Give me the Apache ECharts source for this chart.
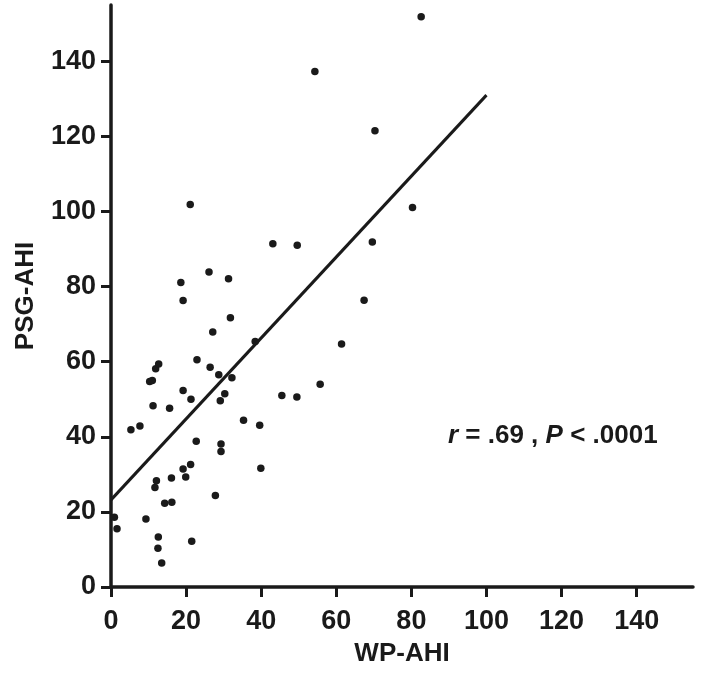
<!DOCTYPE html>
<html>
<head>
<meta charset="utf-8">
<script src="https://cdn.jsdelivr.net/npm/echarts@6/dist/echarts.min.js"></script>
<style>html,body{margin:0;padding:0;background:#fff}#c{width:716px;height:677px}</style>
</head>
<body>
<div id="c"></div>
<script>
var wpAhi = [0.9,1.6,5.3,7.7,9.3,10.3,11.0,11.2,11.7,11.9,12.1,12.7,12.6,12.5,13.5,14.3,15.6,16.1,16.2,19.2,19.2,19.9,21.3,21.2,21.5,22.7,22.9,26.4,27.1,27.8,28.7,29.1,29.3,29.3,30.3,31.8,32.2,35.3,38.4,39.6,39.9,45.5,49.5,55.7,61.4,54.3,21.1,43.1,49.6,18.6,19.2,26.1,31.3,82.6,70.3,80.3,69.6,67.4];
var psgAhi = [18.6,15.5,41.9,42.9,18.1,54.7,55.0,48.3,26.5,58.1,28.3,59.4,13.3,10.3,6.4,22.3,47.6,29.0,22.6,52.3,31.4,29.3,50.0,32.6,12.2,38.8,60.5,58.5,67.9,24.4,56.5,49.6,38.1,36.1,51.5,71.7,55.7,44.4,65.4,43.1,31.6,51.0,50.6,54.0,64.7,137.3,101.9,91.4,91.0,81.1,76.3,83.9,82.1,151.9,121.5,101.1,91.9,76.4];
var fitX = [0, 100];
var fitY = [23.2, 131.0];
var tickValues = [0,20,40,60,80,100,120,140];
var xTitle = 'WP-AHI';
var yTitle = 'PSG-AHI';

var pts = wpAhi.map(function(v,i){return [v, psgAhi[i]];});
var fit = fitX.map(function(v,i){return [v, fitY[i]];});
var ink = '#1a1a1a';
var font = 'Liberation Sans, Arial, Helvetica, sans-serif';

var axisCommon = {
  type:'value', min:0, max:155, interval:20,
  axisLine:{show:true, lineStyle:{color:ink, width:3.5}},
  axisTick:{show:true, length:10, customValues:tickValues, lineStyle:{color:ink, width:3}},
  splitLine:{show:false},
  axisLabel:{color:ink, fontSize:27, fontWeight:'bold', fontFamily:font, customValues:tickValues},
  nameTextStyle:{color:ink, fontSize:26, fontWeight:'bold', fontFamily:font}
};

var chart = echarts.init(document.getElementById('c'));
chart.setOption({
  animation:false,
  grid:{left:111, right:23, top:5, bottom:90, containLabel:false},
  xAxis: Object.assign({}, axisCommon, {
    name:xTitle, nameLocation:'middle', nameGap:54,
    axisLabel:Object.assign({}, axisCommon.axisLabel, {margin:21})
  }),
  yAxis: Object.assign({}, axisCommon, {
    name:yTitle, nameLocation:'middle', nameGap:72, nameRotate:90,
    axisLabel:Object.assign({}, axisCommon.axisLabel, {margin:15})
  }),
  series:[
    {type:'scatter', data:pts, symbol:'circle', symbolSize:7.5, itemStyle:{color:ink, opacity:1}},
    {type:'line', data:fit, symbol:'none', lineStyle:{color:ink, width:3}}
  ],
  graphic:[{
    type:'text', left:448, top:423,
    style:{
      text:'{i|r} = .69 , {i|P} < .0001',
      font:'bold 26px ' + font,
      fill:ink,
      rich:{i:{fontStyle:'italic', fontWeight:'bold', fontSize:26, fontFamily:font, fill:ink}}
    }
  }]
});
</script>
</body>
</html>
